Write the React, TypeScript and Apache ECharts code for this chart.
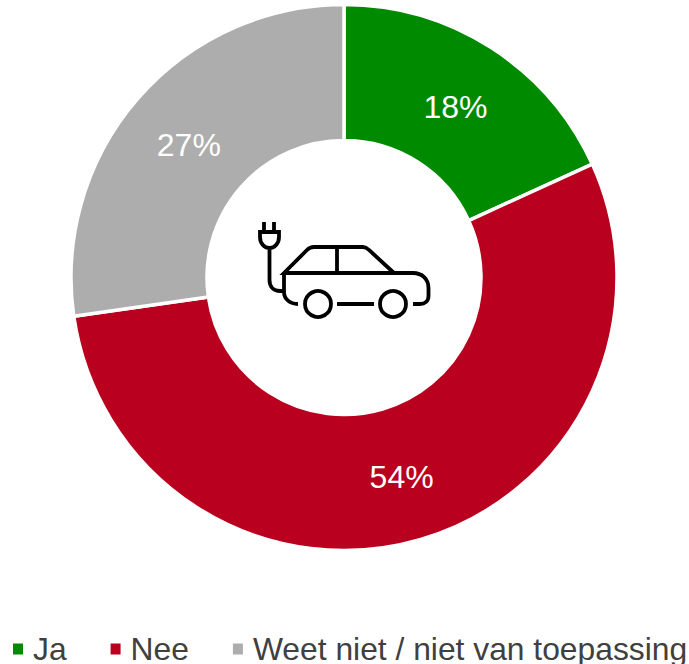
import React, { useEffect, useRef } from "react";
import * as echarts from "echarts";

const categories = ["Ja", "Nee", "Weet niet / niet van toepassing"];
const values = [18, 54, 27];
const colors = ["#008A00", "#B9001E", "#ADADAD"];
const labelOffsets = [[-1, 4], [-1, 0], [2, 4]];

const carPath =
  "M264 222V232M274 222V232M260 232H279V237C279 243 275 248 269.500 248C264 248 260 243 260 237ZM269.500 248V280C269.500 287 274 291 280 291H284" +
  "M284 273V292C284 299 290 304 298 304M337 304H374M413 304H420C425 304 428.500 301 428.500 296V288C428.500 279 422 273 413 273H284L307 250C309 248 311 247 314 247H363C365 247 367 248 369 250L394 273M337 247V273";
echarts.graphic.registerShape("carIcon", echarts.graphic.extendPath(carPath, {}));

export default function App() {
  const ref = useRef<HTMLDivElement>(null);
  useEffect(() => {
    document.body.style.margin = "0";
    const chart = echarts.init(ref.current!, null, { renderer: "svg" });
    chart.setOption({
      animation: false,
      color: colors,
      textStyle: { fontFamily: "Liberation Sans" },
      legend: {
        left: 6,
        top: 628,
        padding: 5,
        width: 760,
        icon: "rect",
        itemWidth: 12,
        itemHeight: 13,
        itemGap: 42,
        selectedMode: false,
        textStyle: { fontSize: 31.8, color: "#404040", fontFamily: "Liberation Sans", padding: [0, 0, 0, 4] },
        data: categories,
      },
      series: [
        {
          type: "pie",
          center: [344, 277.5],
          radius: [137, 273],
          startAngle: 90,
          clockwise: true,
          silent: true,
          itemStyle: { borderColor: "#fff", borderWidth: 3.5 },
          label: {
            show: true,
            position: "inside",
            formatter: "{c}%",
            color: "#fff",
            fontSize: 32,
            fontFamily: "Liberation Sans",
          },
          labelLine: { show: false },
          data: categories.map((name, i) => ({
            name,
            value: values[i],
            label: { offset: labelOffsets[i] },
          })),
        },
      ],
      graphic: [
        { type: "circle", shape: { cx: 318, cy: 304, r: 13 }, style: { fill: "none", stroke: "#000", lineWidth: 3.8 } },
        { type: "circle", shape: { cx: 393, cy: 304, r: 13 }, style: { fill: "none", stroke: "#000", lineWidth: 3.8 } },
        { type: "carIcon", x: 0, y: 0, style: { fill: "none", stroke: "#000", lineWidth: 3.8 } },
      ],
    });
    return () => chart.dispose();
  }, []);
  return <div ref={ref} style={{ width: 689, height: 664 }} />;
}
